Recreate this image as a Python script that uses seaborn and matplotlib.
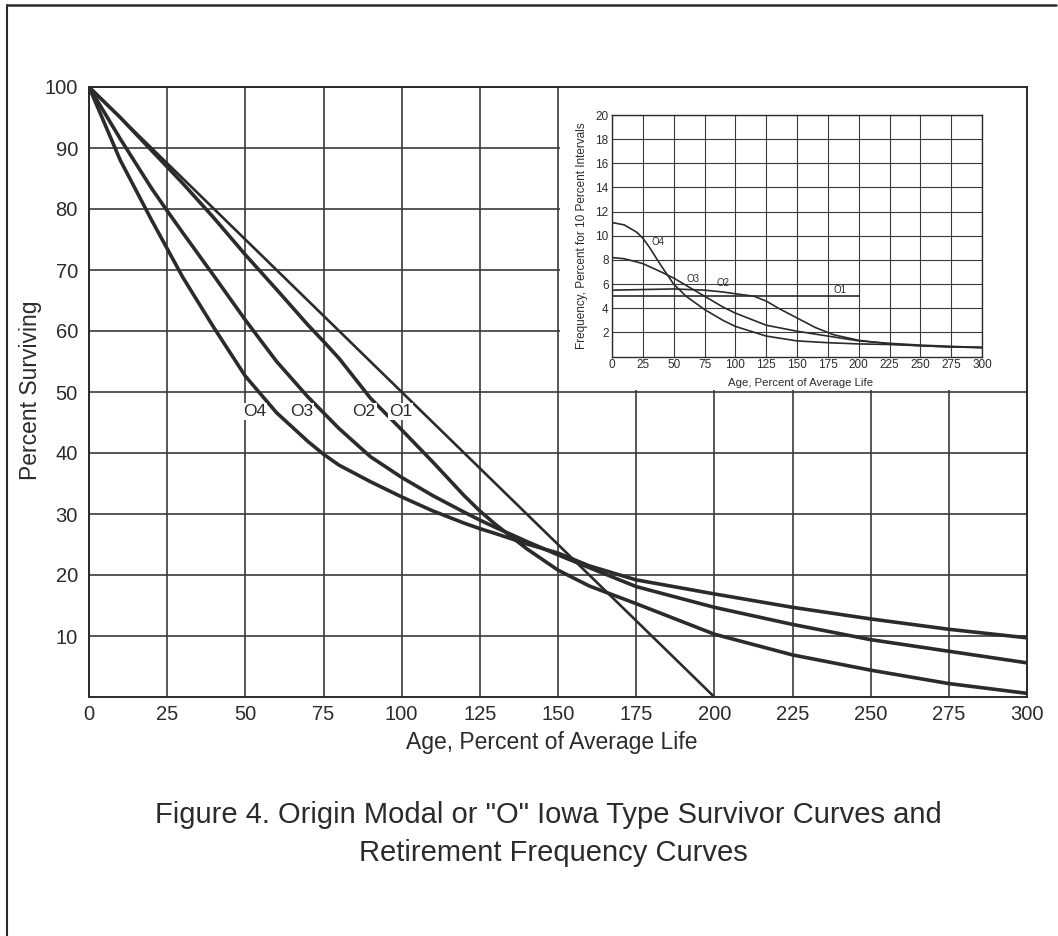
import numpy as np
import pandas as pd
import matplotlib
matplotlib.use("Agg")
import matplotlib.pyplot as plt
from matplotlib.patches import Rectangle
from matplotlib.lines import Line2D
import seaborn as sns

# ---------------- data ----------------
x_main = [0, 10, 20, 25, 30, 40, 50, 60, 70, 75, 80, 90, 100, 110, 120, 125,
          130, 140, 150, 160, 175, 200, 225, 250, 275, 300]
o2_surv = [100, 95, 89.6, 86.9, 84.2, 78.5, 72.5, 66.8, 61, 58.3, 55.5, 49, 43.8,
           38.5, 33, 30.5, 28.3, 24.3, 20.8, 18.2, 15.3, 10.3, 6.9, 4.4, 2.2, 0.6]
o3_surv = [100, 91.5, 83.4, 79.7, 76.1, 69.0, 61.8, 55.0, 49.2, 46.6, 44, 39.4, 36,
           33, 30.3, 29, 27.8, 25.5, 23.3, 21.2, 18.1, 14.7, 11.9, 9.4, 7.5, 5.6]
o4_surv = [100, 88, 78.2, 73.5, 68.8, 60.5, 52.6, 46.6, 41.9, 39.8, 38, 35.3, 32.8,
           30.5, 28.5, 27.6, 26.8, 25.1, 23.6, 21.5, 19.2, 16.9, 14.7, 12.8, 11.1, 9.7]
x_o1 = [0, 200]
o1_surv = [100, 0]

curve_labels = ["O4", "O3", "O2", "O1"]
label_x = [53, 68, 88, 99.6]
label_y = [46.8, 46.8, 46.8, 46.8]

# inset: retirement frequency curves
x_f4 = [0, 10, 20, 25, 30, 40, 50, 60, 75, 90, 100, 125, 150, 175, 200, 225, 250, 275, 300]
o4_freq = [11.1, 10.9, 10.3, 9.8, 9.1, 7.5, 6.0, 5.0, 3.9, 3.0, 2.5, 1.7, 1.3, 1.15,
           1.05, 1.0, 0.9, 0.8, 0.75]
x_f3 = [0, 10, 25, 40, 50, 60, 75, 90, 100, 125, 150, 175, 200, 225, 250, 275, 300]
o3_freq = [8.2, 8.1, 7.7, 7.0, 6.5, 5.9, 5.0, 4.1, 3.6, 2.6, 2.1, 1.7, 1.3, 1.1, 0.95,
           0.85, 0.75]
x_f2 = [0, 25, 50, 75, 90, 100, 115, 125, 135, 150, 165, 180, 200, 225, 250, 275, 300]
o2_freq = [5.5, 5.55, 5.6, 5.5, 5.35, 5.2, 5.0, 4.6, 4.0, 3.2, 2.4, 1.8, 1.35, 1.05,
           0.9, 0.8, 0.75]
x_f1 = [0, 200]
o1_freq = [5.0, 5.0]
inset_labels = ["O4", "O3", "O2", "O1"]
inset_label_x = [37, 66, 90, 185]
inset_label_y = [9.5, 6.4, 6.1, 5.5]

main_xticks = list(range(0, 301, 25))
main_yticks = list(range(10, 101, 10))
inset_xticks = list(range(0, 301, 25))
inset_yticks = list(range(2, 21, 2))

# ---------------- style ----------------
sns.set_theme(style="white")
plt.rcParams["font.family"] = ["Liberation Sans", "DejaVu Sans"]
INK = "#2b2b2b"
GRID = "#3a3a3a"

W, H = 1058, 936
fig = plt.figure(figsize=(W / 100, H / 100), dpi=100)
fig.patch.set_facecolor("white")

def fx(px):
    return px / W

def fy(py):
    return 1 - py / H

# main axes: px 89..1027 horizontally, 87..697 vertically
ax = fig.add_axes([fx(89), fy(697), fx(1027) - fx(89), fy(87) - fy(697)])
ax.set_xlim(0, 300)
ax.set_ylim(0, 100)
ax.set_xticks(main_xticks)
ax.set_yticks(main_yticks)
ax.grid(True, color=GRID, linewidth=1.2)
ax.set_axisbelow(True)
for s in ax.spines.values():
    s.set_color(INK)
    s.set_linewidth(1.4)
ax.tick_params(axis="both", length=0, labelsize=14.5, colors=INK)
ax.tick_params(axis="x", pad=6)
ax.tick_params(axis="y", pad=8)

# white patch behind the inset (hides the main grid there)
ax.add_patch(Rectangle((150.6, 50.3), 149.4, 49.7, facecolor="white",
                       edgecolor="none", zorder=1.2))

surv = pd.DataFrame({
    "x": x_main * 3 + x_o1,
    "y": o4_surv + o3_surv + o2_surv + o1_surv,
    "curve": ["O4"] * len(x_main) + ["O3"] * len(x_main) + ["O2"] * len(x_main) + ["O1"] * 2,
})
pal = {"O4": INK, "O3": INK, "O2": INK, "O1": INK}
sizes = {"O4": 2.6, "O3": 2.6, "O2": 2.6, "O1": 1.9}
sns.lineplot(data=surv, x="x", y="y", hue="curve", size="curve", sizes=sizes,
             palette=pal, estimator=None, sort=False, legend=False, ax=ax, zorder=3)
ax.set_xlabel("")
ax.set_ylabel("")

for t, xx, yy in zip(curve_labels, label_x, label_y):
    ax.text(xx, yy, t, ha="center", va="center", fontsize=12.5, color=INK, zorder=4,
            bbox=dict(facecolor="white", edgecolor="none", pad=0.6))

# axis labels and caption
fig.text(fx(552), fy(743), "Age, Percent of Average Life", ha="center", va="center",
         fontsize=16.5, color=INK)
fig.text(fx(31), fy(390), "Percent Surviving", ha="center", va="center",
         rotation=90, fontsize=16.5, color=INK)
fig.text(fx(548), fy(815), 'Figure 4. Origin Modal or "O" Iowa Type Survivor Curves and',
         ha="center", va="center", fontsize=21, color=INK)
fig.text(fx(553), fy(853), "Retirement Frequency Curves",
         ha="center", va="center", fontsize=21, color=INK)

# page frame (scan border)
fig.add_artist(Line2D([fx(7), fx(7)], [fy(5), 0], color=INK, linewidth=1.5))
fig.add_artist(Line2D([fx(7), fx(1056)], [fy(5), fy(5)], color=INK, linewidth=1.8))

# ---------------- inset ----------------
axi = fig.add_axes([fx(612), fy(356.6), fx(982) - fx(612), fy(115) - fy(356.6)])
axi.set_facecolor("white")
axi.set_xlim(0, 300)
axi.set_ylim(0, 20)
axi.set_xticks(inset_xticks)
axi.set_yticks(inset_yticks)
axi.grid(True, color=GRID, linewidth=0.8)
axi.set_axisbelow(True)
for s in axi.spines.values():
    s.set_color(INK)
    s.set_linewidth(1.0)
axi.tick_params(axis="both", length=0, labelsize=8.5, colors=INK)
axi.tick_params(axis="x", pad=1.5)
axi.tick_params(axis="y", pad=2.5)

freq = pd.DataFrame({
    "x": x_f4 + x_f3 + x_f2 + x_f1,
    "y": o4_freq + o3_freq + o2_freq + o1_freq,
    "curve": ["O4"] * len(x_f4) + ["O3"] * len(x_f3) + ["O2"] * len(x_f2) + ["O1"] * 2,
})
sns.lineplot(data=freq, x="x", y="y", hue="curve", palette=pal, estimator=None,
             sort=False, legend=False, ax=axi, linewidth=1.2, zorder=3)
axi.set_xlabel("Age, Percent of Average Life", fontsize=8.2, color=INK)
axi.set_ylabel("Frequency, Percent for 10 Percent Intervals", fontsize=8.5, color=INK)
axi.xaxis.set_label_coords(0.51, -0.09)
axi.yaxis.set_label_coords(-24 / 370, 0.5)
for t, xx, yy in zip(inset_labels, inset_label_x, inset_label_y):
    axi.text(xx, yy, t, ha="center", va="center", fontsize=7, color=INK, zorder=4)

fig.savefig("out.png", dpi=100, facecolor="white")
